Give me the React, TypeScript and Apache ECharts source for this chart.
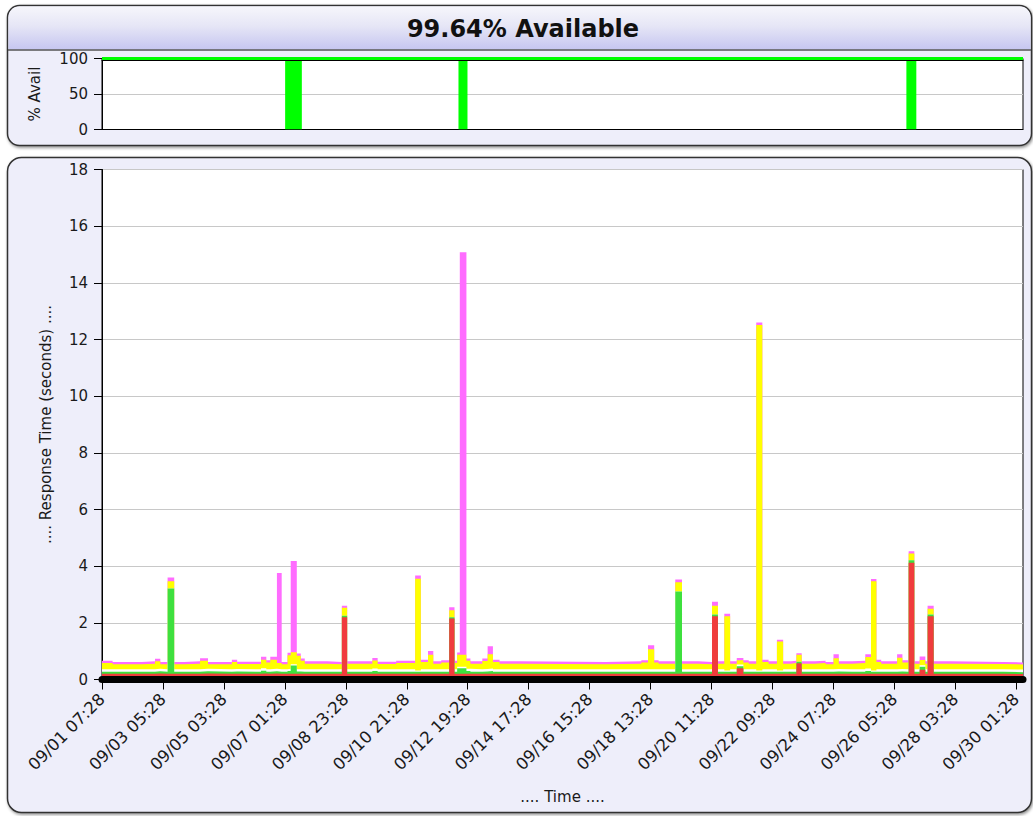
import React, { useEffect, useRef } from "react";
import * as echarts from "echarts";

const TITLE = "99.64% Available";
const FONT = "DejaVu Sans";
const SPAN_H = 695; // hours from 09/01 07:28 to right edge
const TICK_STEP_H = 46;
const tickLabels = [
  "09/01 07:28", "09/03 05:28", "09/05 03:28", "09/07 01:28", "09/08 23:28",
  "09/10 21:28", "09/12 19:28", "09/14 17:28", "09/16 15:28", "09/18 13:28",
  "09/20 11:28", "09/22 09:28", "09/24 07:28", "09/26 05:28", "09/28 03:28",
  "09/30 01:28",
];

// availability
const availLevel = 100;
const outageStart = [138.2, 269, 607];
const outageEnd = [150.8, 275.8, 614.5];

// response time layers (seconds), step segments starting at segStart (hours)
const segStart = [0, 8, 30, 40, 44, 49.5, 54.5, 62, 74, 80, 98, 102, 120, 124, 127, 132, 135.6, 140, 142.4, 147, 150, 153, 170, 181, 185, 204, 208, 222, 236.3, 240.6, 246, 250, 256, 262, 266, 268, 270, 275, 278, 287, 291, 295, 300, 315, 380, 407, 412, 416.7, 420, 432.6, 437.7, 450, 460.3, 464.8, 469.6, 474, 479, 484, 488, 493.7, 498.3, 503, 509.3, 514, 520, 524, 528, 538, 546, 552, 556, 566, 576, 580.3, 584.4, 588, 600, 604, 608.7, 613, 617, 621.3, 623, 627.6, 640, 680];
const red = [.20, .20, .20, .21, .20, .20, .20, .20, .21, .20, .20, .20, .21, .20, .21, .20, .20, .20, .20, .20, .20, .20, .20, 2.20, .20, .20, .20, .20, .20, .20, .20, .20, .20, 2.15, .20, .20, .20, .20, .20, .20, .20, .20, .20, .20, .20, .20, .20, .20, .20, .20, .20, .20, 2.23, .20, .20, .20, .40, .20, .20, .20, .20, .20, .20, .20, .20, .57, .20, .20, .20, .20, .20, .20, .20, .20, .20, .20, .20, .20, 4.12, .20, .34, .20, 2.23, .20, .20, .19];
const green = [.07, .07, .07, .08, .07, 3.01, .07, .07, .08, .07, .08, .07, .10, .07, .08, .07, .07, .10, .29, .08, .07, .07, .07, .05, .07, .10, .07, .07, .07, .07, .07, .07, .07, .05, .07, .20, .20, .10, .07, .08, .10, .07, .07, .07, .07, .07, .07, .07, .07, 2.91, .07, .07, .06, .07, .07, .07, .07, .07, .07, .07, .07, .07, .07, .07, .07, .06, .07, .07, .07, .08, .07, .07, .10, .07, .07, .07, .08, .07, .09, .07, .11, .07, .06, .07, .07, .07];
const white = [.09, .09, .09, .09, .09, 0, .09, .09, .09, .09, .09, .09, .09, .09, .09, .09, .09, .08, .05, .08, .09, .09, .09, 0, .09, .09, .09, .09, .05, .09, .09, .09, .09, 0, .09, .05, .05, .08, .09, .09, .09, .09, .09, .09, .09, .09, .09, .09, .09, 0, .09, .09, 0, .09, .05, .09, .06, .09, .09, .05, .09, .09, .05, .09, .09, 0, .09, .09, .09, .09, .09, .09, .09, .05, .09, .09, .09, .09, 0, .09, .05, .09, 0, .09, .09, .09];
const yellow = [.22, .18, .20, .26, .18, .26, .18, .20, .28, .18, .25, .19, .30, .24, .32, .22, .18, .48, .42, .48, .30, .20, .18, .28, .20, .28, .19, .22, 3.24, .26, .51, .20, .24, .24, .22, .42, .42, .28, .20, .28, .50, .26, .20, .18, .20, .24, .71, .24, .20, .32, .20, .18, .31, .20, 1.91, .20, .15, .24, .20, 12.19, .26, .20, 1.02, .20, .22, .24, .20, .22, .18, .38, .20, .22, .40, 3.15, .26, .20, .40, .24, .24, .20, .19, .20, .21, .20, .19, .18];
const magenta = [.08, .08, .08, .09, .08, .13, .08, .08, .09, .08, .08, .08, .10, .08, .10, 3.18, .08, .08, 3.22, .08, .08, .08, .08, .07, .08, .09, .08, .08, .11, .08, .14, .08, .08, .11, .08, .08, 14.21, .08, .08, .09, .28, .08, .08, .08, .08, .08, .14, .08, .08, .10, .08, .08, .14, .08, .09, .08, .08, .08, .08, .09, .08, .08, .06, .08, .08, .06, .08, .08, .08, .14, .08, .08, .10, .08, .08, .08, .12, .08, .08, .08, .12, .08, .10, .08, .07, .07];

// bottom-to-top stacking order
const layers = [
  { name: "red", vals: red, color: "#f03c3c" },
  { name: "green", vals: green, color: "#3ee03e" },
  { name: "white", vals: white, color: "#ffffff" },
  { name: "yellow", vals: yellow, color: "#ffff00" },
  { name: "magenta", vals: magenta, color: "#ff6cff" },
];

// cumulative (stacked) tops for layer k
function stackedStepData(k: number) {
  const tops = segStart.map((_, i) => {
    let s = 0;
    for (let j = 0; j <= k; j++) s += layers[j].vals[i];
    return Math.round(s * 1000) / 1000;
  });
  const d: number[][] = segStart.map((t, i) => [t, tops[i]]);
  d.push([SPAN_H, tops[tops.length - 1]]);
  return d;
}

function outageData() {
  const d: number[][] = [[0, 0]];
  outageStart.forEach((s, i) => {
    d.push([s, availLevel]);
    d.push([outageEnd[i], 0]);
  });
  d.push([SPAN_H, 0]);
  return d;
}

const TXT = "#1a1a1a";
const PANEL = { fill: "#eeeefa", stroke: "#333", lineWidth: 1.5, shadowBlur: 3, shadowOffsetX: 1, shadowOffsetY: 1.5, shadowColor: "rgba(0,0,0,0.45)" };

export default function App() {
  const ref = useRef<HTMLDivElement>(null);
  useEffect(() => {
    if (!ref.current) return;
    const chart = echarts.init(ref.current, null, { renderer: "svg" });
    const layerSeries = layers
      .map((l, k) => ({
        type: "line", name: l.name, xAxisIndex: 2, yAxisIndex: 1, step: "end", symbol: "none",
        data: stackedStepData(k), lineStyle: { width: 0 }, itemStyle: { color: l.color },
        areaStyle: { color: l.color, opacity: 1, origin: "start" }, silent: true, z: 2,
      }))
      .reverse(); // draw the topmost cumulative layer first
    const option: any = {
      animation: false,
      textStyle: { fontFamily: FONT },
      graphic: [
        { type: "rect", z: -10, silent: true, shape: { x: 7.5, y: 5.5, width: 1024, height: 140, r: 12 }, style: PANEL },
        {
          type: "rect", z: -9, silent: true, shape: { x: 8.5, y: 6.5, width: 1022, height: 43, r: [11, 11, 0, 0] },
          style: {
            fill: new echarts.graphic.LinearGradient(0, 0, 0, 1, [
              { offset: 0, color: "#f6f6fb" },
              { offset: 0.45, color: "#e6e6f6" },
              { offset: 1, color: "#c6c6f0" },
            ]),
          },
        },
        { type: "line", z: -8, silent: true, shape: { x1: 8, y1: 50, x2: 1031, y2: 50 }, style: { stroke: "#555", lineWidth: 1.5 } },
        { type: "text", z: 10, silent: true, x: 523, y: 29, style: { text: TITLE, fontSize: 24, fontWeight: "bold", fontFamily: FONT, fill: "#111", align: "center", verticalAlign: "middle" } },
        { type: "rect", z: -10, silent: true, shape: { x: 7.5, y: 157.5, width: 1024, height: 655, r: 14 }, style: PANEL },
      ],
      grid: [
        { left: 102, top: 58.5, width: 921, height: 71, show: true, backgroundColor: "#fff", borderColor: "#000", borderWidth: 1 },
        { left: 102, top: 169.5, width: 921, height: 510, show: true, backgroundColor: "#fff", borderColor: "#000", borderWidth: 1 },
      ],
      xAxis: [
        { gridIndex: 0, type: "value", min: 0, max: SPAN_H, axisLine: { show: true, lineStyle: { color: "#000" } }, axisTick: { show: false }, axisLabel: { show: false }, splitLine: { show: false } },
        { gridIndex: 0, type: "value", position: "top", offset: -1.5, z: 5, min: 0, max: SPAN_H, axisLine: { show: true, lineStyle: { color: "#000" } }, axisTick: { show: false }, axisLabel: { show: false }, splitLine: { show: false } },
        {
          gridIndex: 1, type: "value", min: 0, max: SPAN_H, interval: TICK_STEP_H, z: 3,
          axisLine: { show: true, lineStyle: { color: "#000", width: 7 } },
          axisTick: { show: true, length: 10, lineStyle: { color: "#000" } },
          axisLabel: {
            rotate: 45, margin: 17, fontSize: 16.5, color: TXT, fontFamily: FONT, showMaxLabel: false,
            formatter: (v: number) => {
              const i = Math.round(v / TICK_STEP_H);
              return Math.abs(v - i * TICK_STEP_H) < 1e-6 && tickLabels[i] ? tickLabels[i] : "";
            },
          },
          splitLine: { show: false },
          name: ".... Time ....", nameLocation: "middle", nameGap: 110,
          nameTextStyle: { fontSize: 15, color: TXT, fontFamily: FONT },
        },
      ],
      yAxis: [
        {
          gridIndex: 0, type: "value", min: 0, max: 100, interval: 50,
          axisLine: { show: true, lineStyle: { color: "#000" } },
          axisTick: { show: true, length: 8, lineStyle: { color: "#000" } },
          axisLabel: { fontSize: 15, color: TXT, margin: 14, fontFamily: FONT },
          splitLine: { show: true, lineStyle: { color: "#c8c8c8" } },
          name: "% Avail", nameLocation: "middle", nameGap: 60,
          nameTextStyle: { fontSize: 15, color: TXT, fontFamily: FONT },
        },
        {
          gridIndex: 1, type: "value", min: 0, max: 18, interval: 2,
          axisLine: { show: true, lineStyle: { color: "#000" } },
          axisTick: { show: true, length: 8, lineStyle: { color: "#000" } },
          axisLabel: { fontSize: 15, color: TXT, margin: 14, fontFamily: FONT },
          splitLine: { show: true, lineStyle: { color: "#c8c8c8" } },
          name: ".... Response Time (seconds) ....", nameLocation: "middle", nameGap: 49,
          nameTextStyle: { fontSize: 15, color: TXT, fontFamily: FONT },
        },
      ],
      series: [
        {
          type: "line", xAxisIndex: 0, yAxisIndex: 0, data: outageData(), step: "end", symbol: "none",
          lineStyle: { width: 0 }, areaStyle: { color: "#00ff00", opacity: 1 }, silent: true,
        },
        {
          type: "line", xAxisIndex: 0, yAxisIndex: 0, data: [[0, availLevel], [SPAN_H, availLevel]], symbol: "none",
          lineStyle: { width: 3, color: "#00ff00" }, clip: false, silent: true,
        },
        ...layerSeries,
      ],
    };
    chart.setOption(option);
    return () => chart.dispose();
  }, []);
  return <div ref={ref} style={{ position: "absolute", left: 0, top: 0, width: 1033, height: 816 }} />;
}
